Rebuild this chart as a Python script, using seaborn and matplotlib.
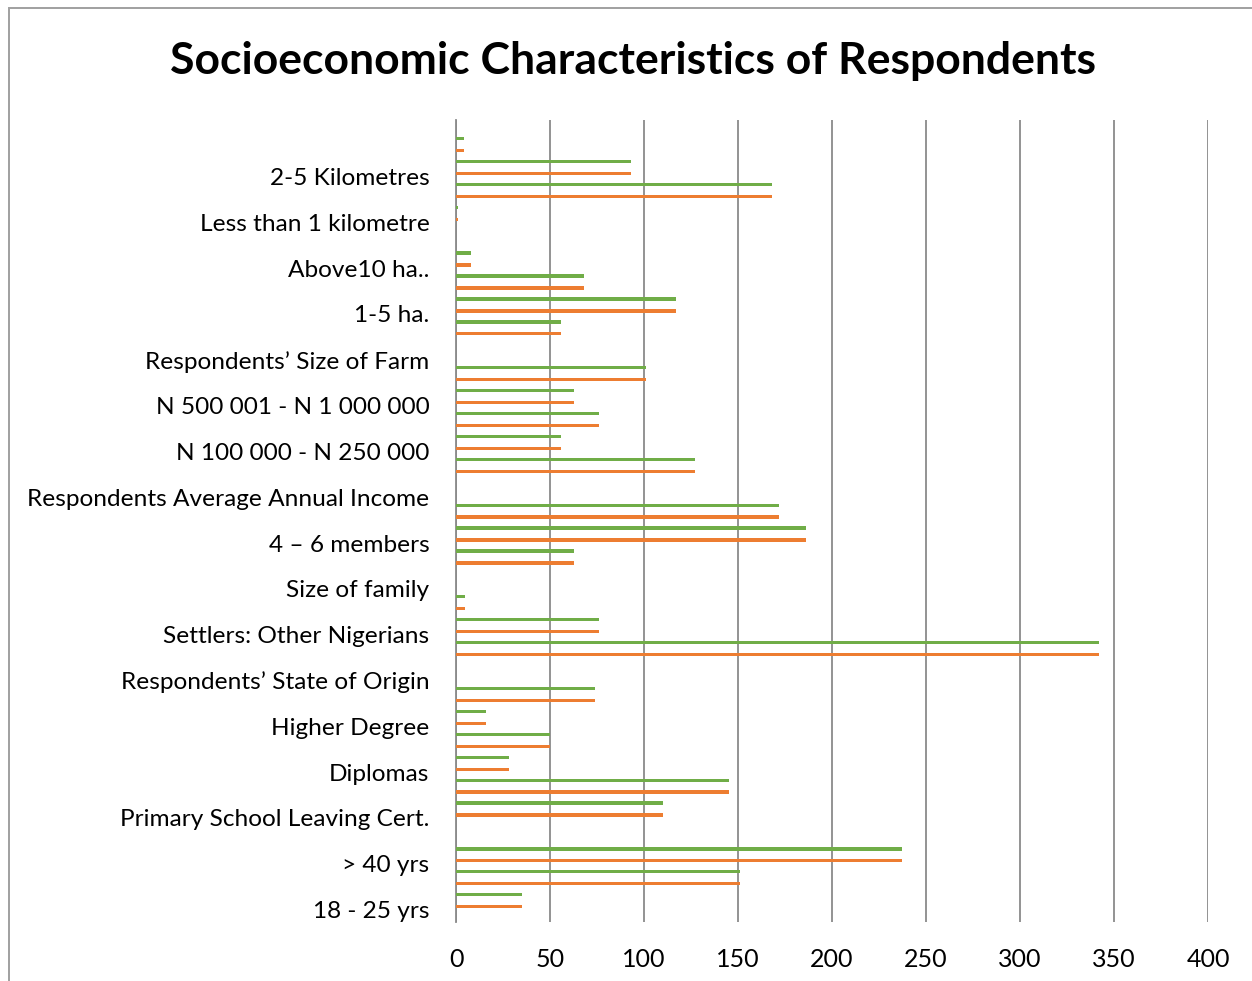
import matplotlib
matplotlib.use("Agg")
import matplotlib.pyplot as plt
import matplotlib.transforms as mtransforms
from matplotlib.patches import Rectangle
import seaborn as sns
import pandas as pd

# Categories listed bottom -> top as they appear in the chart
categories = [
    "18 - 25 yrs", "26 - 40 yrs", "> 40 yrs", "Respondents\u2019 Educational Level",
    "Primary School Leaving Cert.", "Secondary School Cert.", "Diplomas", "First Degree",
    "Higher Degree", "Others", "Respondents\u2019 State of Origin", "Indigenes",
    "Settlers: Other Nigerians", "Settlers: Non-Nigerians", "Size of family", "1 \u2013 3 members",
    "4 \u2013 6 members", "Above 6 members", "Respondents Average Annual Income", "Below N 100 000",
    "N 100 000 - N 250 000", "N 250 001 - N 500 000", "N 500 001 - N 1 000 000", "Above N 1 000 000",
    "Respondents\u2019 Size of Farm", "Less than 1 ha.", "1-5 ha.", "6-10 ha.",
    "Above10 ha..", "Distance to Farm", "Less than 1 kilometre", "1-2 Kilometres",
    "2-5 Kilometres", "Above 5 Kilometres", "Total",
]
# labels that the chart actually shows (every other category)
shown_labels = [
    "18 - 25 yrs", "> 40 yrs", "Primary School Leaving Cert.", "Diplomas", "Higher Degree",
    "Respondents\u2019 State of Origin", "Settlers: Other Nigerians", "Size of family",
    "4 \u2013 6 members", "Respondents Average Annual Income", "N 100 000 - N 250 000",
    "N 500 001 - N 1 000 000", "Respondents\u2019 Size of Farm", "1-5 ha.", "Above10 ha..",
    "Less than 1 kilometre", "2-5 Kilometres",
]
orange_values = [35, 151, 237, 0, 110, 145, 28, 50, 16, 74, 0, 342, 76, 5, 0, 63, 186, 172,
                 0, 127, 56, 76, 63, 101, 0, 56, 117, 68, 8, 0, 1, 168, 93, 4, 0]
green_values = [0, 35, 151, 237, 0, 110, 145, 28, 50, 16, 74, 0, 342, 76, 5, 0, 63, 186,
                172, 0, 127, 56, 76, 63, 101, 0, 56, 117, 68, 8, 0, 1, 168, 93, 4]
series_names = ["Series2", "Series1"]   # orange drawn upper, green lower in each category
series_colors = {"Series2": "#ED7D31", "Series1": "#70AD47"}
x_ticks = [0, 50, 100, 150, 200, 250, 300, 350, 400]
title = "Socioeconomic Characteristics of Respondents"

df = pd.concat([
    pd.DataFrame({"category": categories, "series": "Series2", "value": orange_values}),
    pd.DataFrame({"category": categories, "series": "Series1", "value": green_values}),
])
order = categories[::-1]  # seaborn puts the first category at the top

sns.set_theme(style="white")
plt.rcParams["font.family"] = ["Lato", "DejaVu Sans"]

W, H = 1252, 981
fig = plt.figure(figsize=(W / 100, H / 100), dpi=100)
ax = fig.add_axes([456 / W, 1 - 922 / H, (1208 - 456) / W, (922 - 120) / H])

sns.barplot(data=df, y="category", x="value", hue="series", order=order,
            hue_order=series_names, palette=series_colors, orient="h",
            width=0.96, gap=0.70, saturation=1, legend=False, linewidth=0, ax=ax)

n = len(categories)
ax.set_xlim(0, 400)
ax.set_ylim(n - 0.5 - 0.07, -0.5 - 0.07)
ax.set_xticks(x_ticks)
ax.set_xticklabels([str(t) for t in x_ticks], fontsize=18, color="black")
ax.set_yticks(range(n))
ax.set_yticklabels([c if c in shown_labels else "" for c in order], fontsize=17.6, color="black")
ax.tick_params(axis="y", length=0, pad=19)
ax.tick_params(axis="x", length=0, pad=19)
shift = mtransforms.ScaledTranslation(0, 2.5 / 100, fig.dpi_scale_trans)
for lbl in ax.get_yticklabels():
    lbl.set_transform(lbl.get_transform() + shift)
ax.set_xlabel("")
ax.set_ylabel("")
ax.xaxis.grid(True, color="#8A8A8A", linewidth=1.3)
ax.yaxis.grid(False)
ax.set_axisbelow(True)
for s in ["top", "right", "bottom"]:
    ax.spines[s].set_visible(False)
ax.spines["left"].set_color("#8A8A8A")
ax.spines["left"].set_linewidth(1.3)
ax.spines["left"].set_zorder(0.5)

fig.text(633 / W, 1 - 61 / H, title, ha="center", va="center",
         fontsize=32, fontweight="bold", color="black")

fig.add_artist(Rectangle((9 / W, -0.1), 1.2, (981 - 8) / H + 0.1, transform=fig.transFigure,
                         fill=False, edgecolor="#A0A0A0", linewidth=1.4))

fig.savefig("out.png", dpi=100)
